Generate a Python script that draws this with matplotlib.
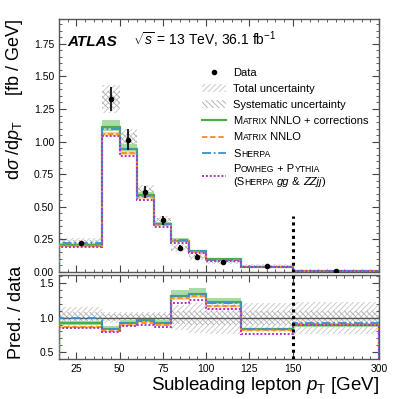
import numpy as np
import matplotlib
matplotlib.use("Agg")
import matplotlib.pyplot as plt
from matplotlib.lines import Line2D
from matplotlib.patches import Patch
from matplotlib.ticker import MultipleLocator, FixedLocator

plt.rcParams["font.family"] = ["Liberation Sans", "DejaVu Sans"]
plt.rcParams["mathtext.fontset"] = "custom"
plt.rcParams["mathtext.rm"] = "Liberation Sans"
plt.rcParams["mathtext.it"] = "Liberation Sans:italic"
plt.rcParams["hatch.linewidth"] = 0.6

# bin edges [GeV] and measured cross-section [fb/GeV]
edges = np.array([15, 40, 50, 60, 70, 80, 90, 100, 120, 150, 300])
data = np.array([0.225, 1.325, 1.013, 0.615, 0.398, 0.184, 0.117, 0.078, 0.048, 0.011])
data_err = np.array([0.015, 0.09, 0.08, 0.045, 0.035, 0.025, 0.02, 0.01, 0.006, 0.002])
tot_rel = np.array([0.15, 0.08, 0.085, 0.08, 0.085, 0.18, 0.22, 0.23, 0.21, 0.23])
syst_rel = np.array([0.08, 0.05, 0.05, 0.05, 0.05, 0.09, 0.10, 0.10, 0.10, 0.10])

# prediction / data ratios
r_matrix_corr = np.array([0.92, 0.84, 0.93, 0.96, 0.93, 1.31, 1.35, 1.23, 0.83, 0.89])
corr_up = np.array([0.04, 0.05, 0.04, 0.04, 0.04, 0.07, 0.06, 0.05, 0.03, 0.03])
corr_dn = np.array([0.03, 0.03, 0.03, 0.03, 0.03, 0.03, 0.03, 0.03, 0.03, 0.03])
r_matrix = np.array([0.87, 0.80, 0.90, 0.93, 0.90, 1.28, 1.31, 1.17, 0.82, 0.91])
r_sherpa = np.array([1.00, 0.83, 0.93, 0.95, 0.92, 1.32, 1.35, 1.22, 0.83, 0.93])
r_powheg = np.array([0.85, 0.785, 0.88, 0.90, 0.86, 1.22, 1.25, 1.13, 0.77, 0.90])

xticks = [25, 50, 75, 100, 125, 150, 300]

c_green = "#4aad48"
c_orange = "#ff8a1c"
c_blue = "#3d8fcf"
c_purple = "#b032c0"


def fwd(x):
    x = np.asarray(x, dtype=float)
    return np.where(x <= 150, x, 150 + (x - 150) / 3.0)


def inv(y):
    y = np.asarray(y, dtype=float)
    return np.where(y <= 150, y, 150 + (y - 150) * 3.0)


fig = plt.figure(figsize=(3.99, 3.99), dpi=100)
ax1 = fig.add_axes([59 / 399, 1 - 272 / 399, 320 / 399, 253 / 399])
ax2 = fig.add_axes([59 / 399, 1 - 359 / 399, 320 / 399, 84 / 399])

centers = 0.5 * (edges[:-1] + edges[1:])
preds = [
    (r_matrix_corr, c_green, "-", 1.6),
    (r_matrix, c_orange, (0, (3, 1.5)), 1.3),
    (r_sherpa, c_blue, (0, (5, 1.5, 1, 1.5)), 1.3),
    (r_powheg, c_purple, (0, (1, 1)), 1.4),
]

for ax in (ax1, ax2):
    k = data if ax is ax1 else np.ones_like(data)
    ax.set_xscale("function", functions=(fwd, inv))
    ax.stairs(k * (1 + tot_rel), edges, baseline=k * (1 - tot_rel), fill=True,
              facecolor="none", edgecolor="#c4c4c4", hatch="//////", lw=0, zorder=1)
    ax.stairs(k * (1 + syst_rel), edges, baseline=k * (1 - syst_rel), fill=True,
              facecolor="none", edgecolor="#a8a8a8", hatch="\\\\\\\\\\\\", lw=0, zorder=1)
    ax.stairs(k * r_matrix_corr * (1 + corr_up), edges, baseline=k * r_matrix_corr * (1 - corr_dn),
              fill=True, color="#a8dba5", lw=0, zorder=2)
    ax.stairs(k * r_matrix * 1.015, edges, baseline=k * r_matrix * 0.985,
              fill=True, color="#ffd2a8", lw=0, zorder=2)
    for r, c, ls, lw in preds:
        ax.stairs(k * r, edges, color=c, ls=ls, lw=lw, zorder=3)

ax1.errorbar(centers, data, yerr=data_err, fmt="o", color="k", ms=3, lw=1.2, zorder=5)
ax1.vlines(150, 0, 0.43, color="k", lw=2.2, ls=(0, (1, 1.2)), zorder=6)
ax2.axvline(150, color="k", lw=2.2, ls=(0, (1, 1.2)), zorder=6)
ax2.axhline(1.0, color="#555555", lw=1.0, zorder=2)

minors = list(range(15, 150, 5)) + list(range(165, 300, 15))
for ax in (ax1, ax2):
    ax.set_xlim(15, 300)
    ax.set_xticks(xticks)
    ax.xaxis.set_minor_locator(FixedLocator(minors))
    ax.tick_params(which="both", direction="in", top=True, right=True, colors="#444444",
                   labelcolor="k", labelsize=7.5)
    ax.tick_params(which="major", length=5, width=0.8)
    ax.tick_params(which="minor", length=2.5, width=0.6)
    for s in ax.spines.values():
        s.set_color("#555555")
        s.set_linewidth(1.0)

ax1.set_xticklabels([])
ax2.set_xticklabels([str(t) for t in xticks])
ax1.set_ylim(0, 1.94)
ax1.yaxis.set_major_locator(MultipleLocator(0.25))
ax1.yaxis.set_minor_locator(MultipleLocator(0.05))
ax1.yaxis.set_major_formatter(lambda v, p: f"{v:.2f}")
ax2.set_ylim(0.4, 1.62)
ax2.yaxis.set_major_locator(MultipleLocator(0.5))
ax2.yaxis.set_minor_locator(MultipleLocator(0.1))
ax2.yaxis.set_major_formatter(lambda v, p: f"{v:.1f}")

ax1.set_ylabel(r"d$\sigma$ /d$p_{\mathrm{T}}$     [fb / GeV]", fontsize=13, loc="top")
ax1.yaxis.set_label_coords(-0.105, 1.0)
ax2.set_ylabel("Pred. / data", fontsize=13)
ax2.yaxis.set_label_coords(-0.105, 0.56)
ax2.set_xlabel(r"Subleading lepton $p_{\mathrm{T}}$ [GeV]", fontsize=13.5, loc="right",
               labelpad=1)

ax1.text(0.025, 0.895, "ATLAS", transform=ax1.transAxes, fontsize=11, weight="bold",
         style="italic")
ax1.text(0.23, 0.895, r"$\sqrt{s}$ = 13 TeV, 36.1 fb$^{-1}$", transform=ax1.transAxes,
         fontsize=10)

handles = [
    Line2D([], [], marker="o", color="k", ls="none", ms=3),
    Patch(facecolor="none", edgecolor="#c4c4c4", hatch="//////", lw=0),
    Patch(facecolor="none", edgecolor="#a8a8a8", hatch="\\\\\\\\\\\\", lw=0),
    Line2D([], [], color=c_green, lw=1.6),
    Line2D([], [], color=c_orange, lw=1.3, ls=(0, (3, 1.5))),
    Line2D([], [], color=c_blue, lw=1.3, ls=(0, (5, 1.5, 1, 1.5))),
    Line2D([], [], color=c_purple, lw=1.4, ls=(0, (1, 1))),
]
# the generator names get small caps below, so their legend slots are left blank
labels = ["Data", "Total uncertainty", "Systematic uncertainty", " ", " ", " ", " \n "]
leg = ax1.legend(handles, labels, loc="upper left", bbox_to_anchor=(0.448, 0.808),
                 frameon=False, fontsize=8, borderpad=0, borderaxespad=0,
                 handlelength=2.1, handletextpad=0.7, labelspacing=0.56)
leg.get_texts()[6].set_linespacing(1.2)

S = 0.78
sc_lines = {
    3: [[("M", 0, 0), ("ATRIX", 1, 0), (" NNLO + corrections", 0, 0)]],
    4: [[("M", 0, 0), ("ATRIX", 1, 0), (" NNLO", 0, 0)]],
    5: [[("S", 0, 0), ("HERPA", 1, 0)]],
    6: [[("P", 0, 0), ("OWHEG", 1, 0), (" + P", 0, 0), ("YTHIA", 1, 0)],
        [("(S", 0, 0), ("HERPA", 1, 0), (" ", 0, 0), ("gg", 0, 1), (" & ", 0, 0),
         ("ZZjj", 0, 1), (")", 0, 0)]],
}

fig.canvas.draw()
renderer = fig.canvas.get_renderer()
to_fig = fig.transFigure.inverted()
ref = leg.get_texts()[0].get_window_extent(renderer)
for i, lines in sc_lines.items():
    t = leg.get_texts()[i]
    bb = t.get_window_extent(renderer)
    _, _, d = renderer.get_text_width_height_descent("lp", t.get_fontproperties(), ismath=False)
    step = 13.0
    for j, parts in enumerate(lines):
        base = bb.y0 + d + step * (len(lines) - 1 - j)
        x0, yb = to_fig.transform((ref.x0, base))
        prev = None
        for s, small, ital in parts:
            kw = dict(fontsize=8 * S if small else 8, style="italic" if ital else "normal",
                      va="baseline", ha="left")
            if prev is None:
                prev = fig.text(x0, yb, s, **kw)
            else:
                prev = ax1.annotate(s, xy=(1, yb), xycoords=(prev, "figure fraction"),
                                    annotation_clip=False, **kw)

fig.savefig("out.png", dpi=100)
